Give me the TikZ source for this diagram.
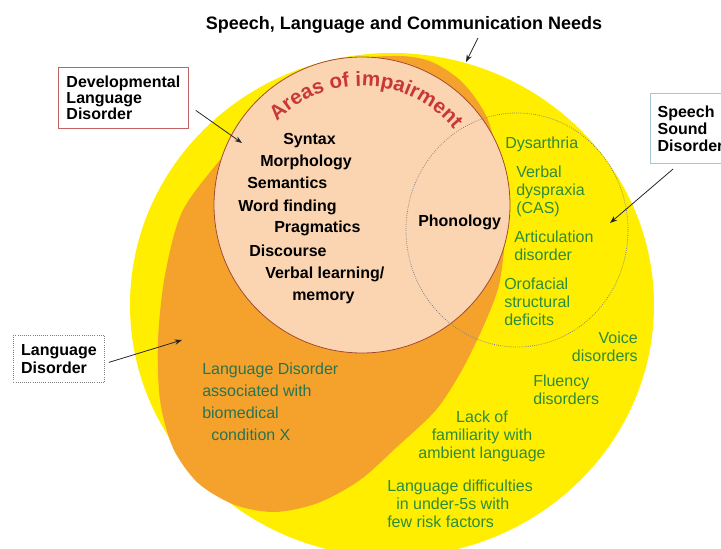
\documentclass[tikz,border=0pt]{standalone}
\usepackage{fontspec}
\setmainfont{Liberation Sans}
\usepackage{tikz}
\usetikzlibrary{arrows.meta}
\usetikzlibrary{decorations.text}
\definecolor{slcnyellow}{RGB}{255,238,0}
\definecolor{ldorange}{RGB}{245,162,45}
\definecolor{aipeach}{RGB}{251,213,178}
\definecolor{aibrown}{RGB}{165,75,45}
\definecolor{aired}{RGB}{200,55,60}
\definecolor{needgreen}{RGB}{45,140,60}
\definecolor{ldgreen}{RGB}{40,115,80}
\definecolor{dldred}{RGB}{195,100,100}
\definecolor{ssdblue}{RGB}{165,200,215}

\begin{document}
\begin{tikzpicture}[x=0.75pt,y=0.75pt,every node/.style={inner sep=0pt},
  area/.style={font=\bfseries\fontsize{12}{16.5}\selectfont,anchor=base west},
  need/.style={font=\fontsize{12}{13.5}\selectfont,text=needgreen,align=left,anchor=north west},
  tag/.style={draw,fill=white,line width=0.6pt,font=\bfseries\fontsize{12}{#1}\selectfont,align=left,anchor=north west},
  pointer/.style={-{Stealth[length=5.5pt,width=4pt]},draw=black!85,line width=0.6pt}]
  \clip (0,0) rectangle (721,-549);
  \fill[slcnyellow] (392,-305) ellipse[x radius=262,y radius=252];
  \fill[ldorange] plot[smooth cycle] coordinates {(400,-56) (432,-62) (463,-83) (488,-120)
    (502,-180) (505,-235) (499,-285) (484,-325) (462,-370) (436,-410) (398,-446) (360,-480)
    (318,-503) (275,-512) (235,-505) (198,-483) (173,-448) (160,-400) (158,-340) (165,-275)
    (183,-210) (228,-150) (262,-108) (300,-80) (350,-60)};
  \filldraw[fill=aipeach,draw=aibrown,line width=0.6pt] (362,-205) circle[radius=148];
  \draw[gray,densely dotted,line width=0.6pt] (517,-230) ellipse[x radius=111,y radius=117];
  \path[decorate,decoration={text along path,text align=center,text color=aired,
    text={|\bfseries\fontsize{15.5}{15.5}\selectfont|Areas of impairment}}]
    (362,-205) ++(147.5:119) arc[start angle=147.5,end angle=27.5,radius=119];

  \node[area] (syntax) at (283,-145) {Syntax};
  \node[area] (morph) at (260,-167) {Morphology};
  \node[area] (sem) at (247,-189) {Semantics};
  \node[area] (word) at (238,-212) {Word finding};
  \node[area] (prag) at (274,-233) {Pragmatics};
  \node[area] (disc) at (249,-256) {Discourse};
  \node[area] (verbal) at (265,-278) {Verbal learning/};
  \node[area] (memory) at (292,-300) {memory};
  \node[area] (phon) at (418,-226) {Phonology};

  \node[need] (dys) at (505,-136.4) {Dysarthria};
  \node[need] (cas) at (516,-165.4) {Verbal\\dyspraxia\\(CAS)};
  \node[need] (artic) at (514,-230.4) {Articulation\\disorder};
  \node[need] (oro) at (504,-277.4) {Orofacial\\structural\\deficits};
  \node[need,align=right,anchor=north east] (voice) at (638,-331.4) {Voice\\disorders};
  \node[need] (fluency) at (533,-374.4) {Fluency\\disorders};
  \node[need,align=center,anchor=north] (lack) at (482,-410.4) {Lack of\\familiarity with\\ambient language};
  \node[need] (under5) at (387,-479.4) {Language difficulties\\\hspace*{6.75pt}in under-5s with\\few risk factors};
  \node[need,text=ldgreen,font=\fontsize{12}{16.5}\selectfont] (ldx) at (202,-362.4)
    {Language Disorder\\associated with\\biomedical\\\hspace*{6.75pt}condition X};

  \node[font=\bfseries\fontsize{13.5}{13.5}\selectfont,anchor=base] (slcn) at (404,-30)
    {Speech, Language and Communication Needs};
  \node[tag=12pt,draw=dldred,minimum width=97.5pt,minimum height=45.75pt] (dld) at (58,-67)
    {Developmental\\Language\\Disorder};
  \node[tag=12.75pt,draw=ssdblue,line width=0.8pt,minimum width=60pt,minimum height=52.5pt] (ssd) at (650,-93)
    {Speech\\Sound\\Disorder};
  \node[tag=13.5pt,draw=gray,densely dotted,minimum width=68.25pt,minimum height=35.25pt] (ld) at (13,-335)
    {Language\\Disorder};

  \coordinate (slcnTip) at (466,-62);
  \coordinate (dldTip) at (242,-143);
  \coordinate (ssdTip) at (610,-223);
  \coordinate (ldTip) at (182,-340);
  \draw[pointer] ([shift={(74,-4)}]slcn.south) -- (slcnTip);
  \draw[pointer] ([shift={(7,-12.5)}]dld.east) -- (dldTip);
  \draw[pointer] ([shift={(23,-5)}]ssd.south west) -- (ssdTip);
  \draw[pointer] ([shift={(4,-3.5)}]ld.east) -- (ldTip);
\end{tikzpicture}
\end{document}
